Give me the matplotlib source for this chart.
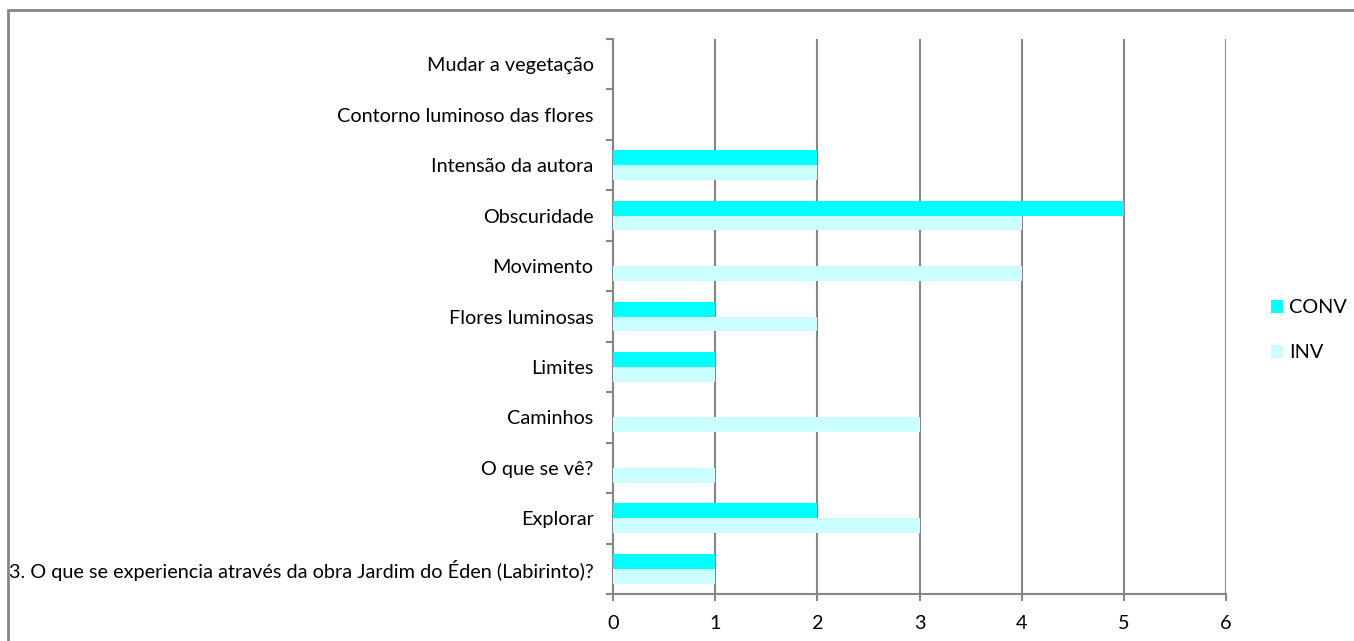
import numpy as np
import matplotlib as mpl
mpl.use('Agg')
import matplotlib.pyplot as plt
from matplotlib.patches import Rectangle

categories = [
    "3. O que se experiencia através da obra Jardim do Éden (Labirinto)?",
    "Explorar",
    "O que se vê?",
    "Caminhos",
    "Limites",
    "Flores luminosas",
    "Movimento",
    "Obscuridade",
    "Intensão da autora",
    "Contorno luminoso das flores",
    "Mudar a vegetação",
]
conv = [1, 2, 0, 0, 1, 1, 0, 5, 2, 0, 0]
inv = [1, 3, 1, 3, 1, 2, 4, 4, 2, 0, 0]
xticks = [0, 1, 2, 3, 4, 5, 6]

plt.rcParams['font.family'] = ['Lato', 'DejaVu Sans']
grey = '#868686'
fs = 14.3

fig = plt.figure(figsize=(13.54, 6.41), dpi=100)
ax = fig.add_axes([613 / 1354, 47 / 641, 613 / 1354, 555 / 641])

y = np.arange(len(categories))
h = 0.295
ax.barh(y + h / 2, conv, height=h, color='#00FFFF', label='CONV', zorder=3)
ax.barh(y - h / 2, inv, height=h, color='#CCFFFF', label='INV', zorder=3)

ax.set_xlim(0, 6)
ax.set_ylim(-0.5, len(categories) - 0.5)
ax.set_xticks(xticks)
ax.set_xticklabels([str(t) for t in xticks], fontsize=fs)
ax.set_yticks(y)
ax.set_yticklabels(categories, fontsize=fs)
ax.set_yticks(np.arange(-0.5, len(categories), 1), minor=True)
ax.tick_params(axis='y', which='major', length=0, pad=14)
ax.tick_params(axis='y', which='minor', length=5, width=1.5, color=grey, direction='out')
ax.tick_params(axis='x', length=5, width=1.5, color=grey, pad=10)

ax.grid(axis='x', color=grey, linewidth=1.5, zorder=0)
for s in ['top', 'right']:
    ax.spines[s].set_visible(False)
for s in ['left', 'bottom']:
    ax.spines[s].set_color(grey)
    ax.spines[s].set_linewidth(1.5)

leg = ax.legend(loc='center left', bbox_to_anchor=(1.044, 0.475), frameon=False,
                fontsize=fs, handlelength=0.6, handleheight=0.6,
                handletextpad=0.3, labelspacing=1.4)

fig.patches.append(Rectangle((8 / 1354, -0.1), 1.2, (641 - 10) / 641 + 0.1,
                             transform=fig.transFigure, fill=False,
                             edgecolor=grey, linewidth=2))

fig.savefig('out.png', dpi=100)
